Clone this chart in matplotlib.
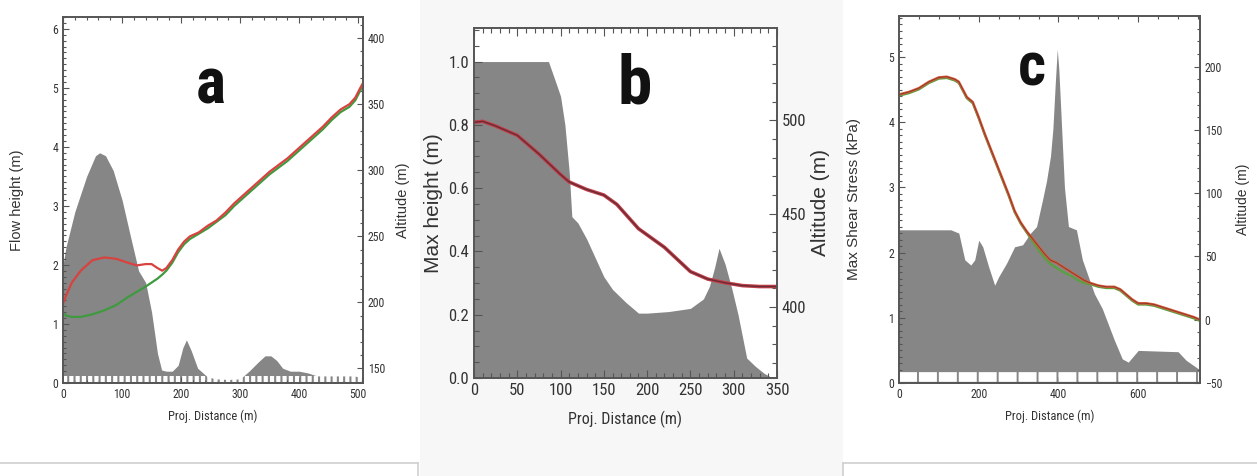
import matplotlib
matplotlib.use("Agg")
import matplotlib.pyplot as plt
from matplotlib import font_manager as fm
from matplotlib.ticker import MultipleLocator
from matplotlib.patches import Rectangle
from matplotlib.lines import Line2D

# ---------------- data ----------------
# (a) flow height along the profile
a_dist = [0, 5, 20, 40, 55, 62, 72, 85, 100, 115, 128, 140, 150, 160, 167, 175, 185, 195,
          203, 209, 217, 228, 245, 260, 280, 300, 315, 330, 342, 352, 362, 372, 385, 400,
          415, 430, 450, 470, 490, 508]
a_flow = [2.0, 2.3, 2.9, 3.5, 3.85, 3.9, 3.85, 3.6, 3.1, 2.45, 1.9, 1.7, 1.2, 0.5, 0.22, 0.2,
          0.2, 0.3, 0.6, 0.73, 0.55, 0.25, 0.1, 0.07, 0.06, 0.07, 0.2, 0.35, 0.46, 0.46,
          0.38, 0.25, 0.2, 0.2, 0.17, 0.12, 0.12, 0.12, 0.12, 0.1]
a_alt_x = [0, 5, 15, 30, 50, 70, 90, 110, 125, 140, 150, 160, 168, 175, 185, 195, 205, 215,
           230, 245, 260, 275, 290, 305, 320, 335, 350, 365, 380, 395, 410, 425, 440, 455,
           470, 485, 495, 503, 508]
a_alt_red = [199, 205, 215, 224, 232, 234, 233, 230, 228, 229, 229, 226, 224, 226, 232, 240,
             246, 250, 253, 258, 262, 268, 275, 281, 287, 293, 299, 304, 309, 315, 321, 327,
             333, 340, 346, 350, 355, 362, 366]
a_alt_green = [192, 190, 189, 189, 191, 194, 198, 204, 208, 212, 215, 218, 221, 224, 230,
               238, 244, 248, 252, 256, 261, 266, 273, 279, 285, 291, 297, 302, 307, 313,
               319, 325, 331, 338, 344, 348, 353, 360, 364]

# (b) maximum height along the profile
b_dist = [0, 86, 95, 100, 105, 110, 113, 120, 130, 140, 150, 160, 175, 190, 200, 225, 250,
          265, 272, 278, 283, 290, 298, 305, 315, 325, 335, 345]
b_height = [1.0, 1.0, 0.93, 0.89, 0.8, 0.65, 0.51, 0.49, 0.44, 0.38, 0.32, 0.28, 0.24, 0.205,
            0.205, 0.21, 0.22, 0.25, 0.29, 0.35, 0.41, 0.36, 0.28, 0.2, 0.063, 0.037, 0.015,
            0.0]
b_alt_x = [0, 10, 25, 50, 75, 100, 110, 120, 130, 150, 165, 190, 220, 250, 270, 290, 310,
           330, 350]
b_alt = [499, 499.5, 497, 492, 482, 471, 467, 465, 463, 460, 455, 442, 432, 419, 415, 413,
         411.5, 411, 411]

# (c) maximum shear stress along the profile
c_dist = [0, 130, 150, 165, 180, 190, 200, 210, 225, 240, 250, 270, 290, 310, 330, 345, 360,
          370, 380, 386, 392, 397, 401, 408, 415, 425, 445, 460, 490, 510, 540, 560, 575,
          600, 700, 720, 755]
c_stress = [2.35, 2.35, 2.3, 1.89, 1.81, 1.89, 2.19, 2.09, 1.78, 1.5, 1.63, 1.84, 2.09, 2.12,
            2.3, 2.4, 2.81, 3.1, 3.48, 3.9, 4.6, 5.12, 4.8, 3.9, 3.0, 2.4, 2.35, 1.89, 1.37,
            1.14, 0.66, 0.37, 0.32, 0.5, 0.48, 0.35, 0.2]
c_alt_x = [0, 25, 50, 75, 100, 120, 140, 150, 160, 170, 185, 200, 215, 230, 245, 260, 275,
           290, 305, 320, 335, 350, 365, 380, 395, 410, 430, 450, 465, 480, 500, 520, 540,
           555, 570, 585, 600, 620, 640, 660, 680, 700, 720, 740, 755]
c_alt_red = [178, 180, 183, 188, 191.5, 192, 190, 188, 182, 176, 172, 160, 147, 135, 123,
             111, 99, 86, 77, 70, 64, 58, 52, 47, 45, 42, 38, 34, 31, 29, 27, 26, 26, 24,
             20, 16, 13, 13, 12, 10, 8, 6, 4, 2, 0]
c_alt_green = [177, 179, 182, 187, 190.5, 191, 189, 187, 181, 175, 171, 159, 146, 134, 122,
               110, 98, 85, 76, 69, 62, 55, 49, 44, 41, 38, 35, 31, 29, 28, 26, 25, 25, 23,
               19, 15, 12, 12, 11, 9, 7, 5, 3, 1, -1]

# ---------------- fonts ----------------
# a narrow face for ticks, x labels and panel letters; a regular face for y labels
_fonts = fm.fontManager.ttflist
_names = {f.name for f in _fonts}
FAMILY, STRETCH = "Liberation Sans", "normal"
for cand in ("Roboto Condensed", "Liberation Sans Narrow", "Open Sans Condensed",
             "DejaVu Sans Condensed", "Noto Sans Condensed"):
    if cand in _names:
        FAMILY = cand
        break
else:
    for f in _fonts:
        if f.stretch in ("condensed", "semi-condensed", 300, 375) and f.style == "normal":
            FAMILY, STRETCH = f.name, f.stretch
            break
plt.rcParams["font.family"] = [FAMILY, "DejaVu Sans"]
plt.rcParams["font.stretch"] = STRETCH
WIDE = ["Liberation Sans", "DejaVu Sans"]

# ---------------- styling ----------------
FILL = "#868686"
SPINE = "#555555"
TXT = "#333333"

fig = plt.figure(figsize=(12.57, 4.76), dpi=100)
fig.patch.set_facecolor("white")
# light panel background behind the middle plot
fig.add_artist(Rectangle((420 / 1257, 0), 423 / 1257, 1, transform=fig.transFigure,
                         facecolor="#f7f7f7", edgecolor="none", zorder=-10))
# frames of the boxes below the left and right plots
for xs_, ys_ in (([0, 418 / 1257], [1 - 463 / 476] * 2),
                 ([418 / 1257] * 2, [0, 1 - 463 / 476]),
                 ([843 / 1257, 1], [1 - 463 / 476] * 2),
                 ([843 / 1257] * 2, [0, 1 - 463 / 476])):
    fig.add_artist(Line2D(xs_, ys_, transform=fig.transFigure, color="#cfcfcf", lw=1.2))


def style_axes(ax, tl_size, major_len, minor_len):
    for s in ax.spines.values():
        s.set_color(SPINE)
        s.set_linewidth(1.2)
    ax.tick_params(which="both", direction="in", colors=SPINE, labelcolor=TXT,
                   labelsize=tl_size, width=0.8)
    ax.tick_params(which="major", length=major_len)
    ax.tick_params(which="minor", length=minor_len)


def panel(rect, xs, fill_vals, xlim, ylim, ylim2, lines, labels, ticks, sizes, pads,
          letter, letter_pos, letter_size, dash):
    ax = fig.add_axes(rect)
    ax.set_facecolor("white")
    ax.fill_between(xs, 0, fill_vals, color=FILL, linewidth=0, zorder=1)
    if dash is not None:
        yd, lw, pat = dash
        ax.plot(xlim, [yd, yd], color="white", lw=lw, dashes=pat, zorder=2,
                solid_capstyle="butt", dash_capstyle="butt")
    ax.set_xlim(*xlim)
    ax.set_ylim(*ylim)
    ax.xaxis.set_major_locator(MultipleLocator(ticks[0]))
    ax.xaxis.set_minor_locator(MultipleLocator(ticks[1]))
    ax.yaxis.set_major_locator(MultipleLocator(ticks[2]))
    ax.yaxis.set_minor_locator(MultipleLocator(ticks[3]))
    ax.tick_params(top=True, which="both")
    tl, xl, yl, yl2, ml, nl = sizes
    ax.set_xlabel(labels[0], fontsize=xl, color=TXT, labelpad=pads[0])
    ax.set_ylabel(labels[1], fontsize=yl, color=TXT, labelpad=pads[1], family=WIDE)
    style_axes(ax, tl, ml, nl)

    ax2 = ax.twinx()
    ax2.set_ylim(*ylim2)
    ax2.yaxis.set_major_locator(MultipleLocator(ticks[4]))
    ax2.yaxis.set_minor_locator(MultipleLocator(ticks[5]))
    for (lx, ly, col, lw) in lines:
        ax2.plot(lx, ly, color=col, lw=lw, solid_joinstyle="round")
    ax2.set_ylabel(labels[2], fontsize=yl2, color=TXT, labelpad=pads[2], family=WIDE)
    style_axes(ax2, tl, ml, nl)

    fig.text(letter_pos[0], letter_pos[1], letter, fontsize=letter_size,
             fontweight="bold", ha="center", va="baseline", color="#111111")
    return ax, ax2


# (a)
panel([63 / 1257, 1 - 383 / 476, 300 / 1257, 366 / 476],
      a_dist, a_flow, (0, 508), (0, 6.2), (139, 416),
      [(a_alt_x, a_alt_green, "#3f9a3f", 1.6), (a_alt_x, a_alt_red, "#d8423f", 1.6)],
      ("Proj. Distance (m)", "Flow height (m)", "Altitude (m)"),
      (100, 20, 1, 0.1, 50, 10), (8.5, 9, 10.5, 10.5, 4, 2.5), (6, 20, 8), "a",
      (211 / 1257, 1 - 103 / 476), 46, (0.07, 4.3, (0.7, 0.35)))

# (b)
panel([474 / 1257, 1 - 378 / 476, 303 / 1257, 350 / 476],
      b_dist, b_height, (0, 350), (0, 1.106), (362, 549.5),
      [(b_alt_x, b_alt, "#c0404a", 2.6), (b_alt_x, b_alt, "#6a2a33", 1.0)],
      ("Proj. Distance (m)", "Max height (m)", "Altitude (m)"),
      (50, 10, 0.2, 0.05, 50, 10), (12, 11.5, 15, 15, 6, 3.5), (9, 4, 3), "b",
      (635 / 1257, 1 - 103 / 476), 50, None)

# (c)
panel([899 / 1257, 1 - 383 / 476, 301 / 1257, 367 / 476],
      c_dist, c_stress, (0, 755), (0, 5.63), (-50, 240),
      [(c_alt_x, c_alt_green, "#5aa040", 1.6), (c_alt_x, c_alt_red, "#e0583a", 1.8),
       (c_alt_x, c_alt_red, "#7a3a2a", 0.6)],
      ("Proj. Distance (m)", "Max Shear Stress (kPa)", "Altitude (m)"),
      (200, 50, 1, 0.1, 50, 10), (8.5, 9, 11, 10, 4, 2.5), (6, 20, 10), "c",
      (1032 / 1257, 1 - 85 / 476), 44, (0.09, 7, (1.85, 0.2)))

fig.savefig("out.png", dpi=100, facecolor=fig.get_facecolor())
